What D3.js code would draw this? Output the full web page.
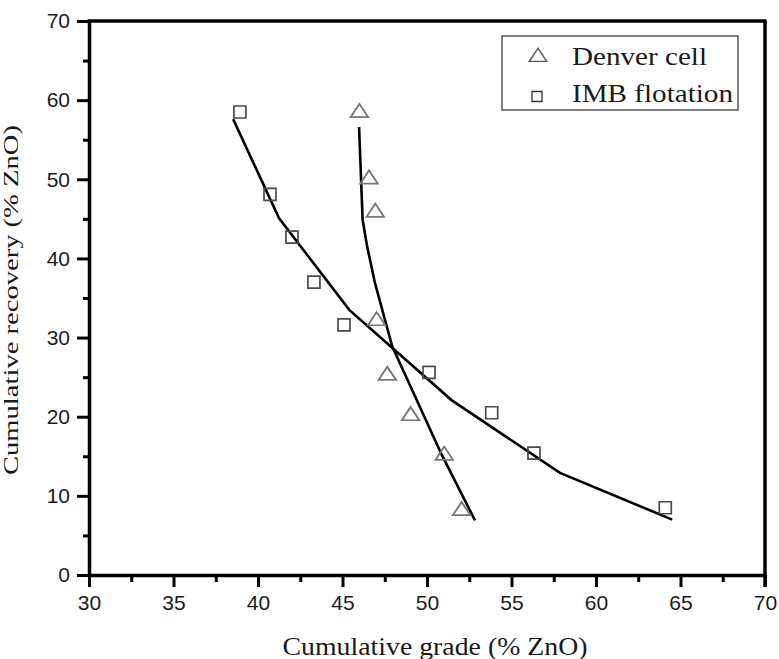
<!DOCTYPE html>
<html lang="en">
<head>
  <meta charset="utf-8">
  <script src="https://d3js.org/d3.v7.min.js"></script>
  <style>
    body { margin: 0; background: #fff; }
    .title { font-family: "Liberation Serif", "Times New Roman", serif; fill: #1a1a1a; }
  </style>
</head>
<body>
  <div id="chart"></div>
  <script>
    // Denver cell measurements
    var denverGrade = [46.0, 46.57, 46.94, 47.02, 47.65, 49.03, 51.02, 52.05];
    var denverRecovery = [58.6, 50.2, 46.0, 32.3, 25.4, 20.3, 15.3, 8.3];

    // IMB flotation measurements
    var imbGrade = [38.93, 40.71, 42.01, 43.31, 45.09, 50.12, 53.83, 56.33, 64.1];
    var imbRecovery = [58.5, 48.1, 42.7, 37.0, 31.6, 25.6, 20.5, 15.4, 8.5];

    // fitted trend lines
    var denverFitGrade = [45.98, 46.19, 46.45, 46.92, 47.94, 50.87, 52.84];
    var denverFitRecovery = [56.6, 44.9, 41.6, 36.9, 28.9, 15.2, 6.9];
    var imbFitGrade = [38.53, 41.24, 45.4, 51.45, 57.87, 64.51];
    var imbFitRecovery = [57.6, 45.1, 33.5, 22.1, 12.9, 7.0];

    var xTicks = [30, 35, 40, 45, 50, 55, 60, 65, 70];
    var yTicks = [0, 10, 20, 30, 40, 50, 60, 70];
    var legendLabels = ["Denver cell", "IMB flotation"];

    var width = 779;
    var height = 659;
    var plotLeft = 89, plotRight = 765, plotTop = 21, plotBottom = 575;

    var x = d3.scaleLinear().domain([30, 70]).range([plotLeft, plotRight]);
    var y = d3.scaleLinear().domain([0, 70]).range([plotBottom, plotTop]);

    var svg = d3.select('#chart')
      .append('svg')
      .attr('width', width)
      .attr('height', height);

    // major + minor ticks
    var xMinor = d3.range(32.5, 70, 5);
    var yMinor = d3.range(5, 70, 10);

    var xAxis = svg.append('g')
      .attr('transform', 'translate(0,' + plotBottom + ')')
      .call(d3.axisBottom(x).tickValues(xTicks).tickSize(12).tickPadding(8).tickSizeOuter(0));
    svg.append('g')
      .attr('transform', 'translate(0,' + plotBottom + ')')
      .call(d3.axisBottom(x).tickValues(xMinor).tickSize(7).tickFormat('').tickSizeOuter(0))
      .select('.domain').remove();

    var yAxis = svg.append('g')
      .attr('transform', 'translate(' + plotLeft + ',0)')
      .call(d3.axisLeft(y).tickValues(yTicks).tickSize(12).tickPadding(7).tickSizeOuter(0));
    svg.append('g')
      .attr('transform', 'translate(' + plotLeft + ',0)')
      .call(d3.axisLeft(y).tickValues(yMinor).tickSize(6).tickFormat('').tickSizeOuter(0))
      .select('.domain').remove();

    svg.selectAll('.domain').attr('stroke', '#000').attr('stroke-width', 3.5);
    svg.selectAll('.tick line').attr('stroke', '#000').attr('stroke-width', 3);
    svg.selectAll('.tick text')
      .attr('font-family', '"Liberation Sans", Arial, sans-serif')
      .attr('font-size', 21)
      .attr('fill', '#1a1a1a');
    xAxis.selectAll('.tick text').attr('dy', '0.72em');

    // top and right frame
    svg.append('line')
      .attr('x1', x(30) - 1.5).attr('x2', x(70) + 1.5)
      .attr('y1', y(70)).attr('y2', y(70))
      .attr('stroke', '#000').attr('stroke-width', 3.5);
    svg.append('line')
      .attr('x1', x(70)).attr('x2', x(70))
      .attr('y1', y(70)).attr('y2', y(0) + 12)
      .attr('stroke', '#000').attr('stroke-width', 3.5);

    // fit lines
    var line = d3.line()
      .x(function (d) { return x(d[0]); })
      .y(function (d) { return y(d[1]); });

    var fits = [
      d3.zip(denverFitGrade, denverFitRecovery),
      d3.zip(imbFitGrade, imbFitRecovery)
    ];
    svg.selectAll('.fit')
      .data(fits)
      .enter()
      .append('path')
      .attr('class', 'fit')
      .attr('d', line)
      .attr('fill', 'none')
      .attr('stroke', '#000')
      .attr('stroke-width', 2.6);

    // markers
    var tri = d3.symbol().type(d3.symbolTriangle).size(100);
    var sq = d3.symbol().type(d3.symbolSquare).size(144);

    svg.selectAll('.denver')
      .data(d3.zip(denverGrade, denverRecovery))
      .enter()
      .append('path')
      .attr('class', 'denver')
      .attr('d', tri)
      .attr('transform', function (d) { return 'translate(' + x(d[0]) + ',' + (y(d[1]) + 1.5) + ') scale(1.15,1)'; })
      .attr('fill', 'none')
      .attr('stroke', '#777')
      .attr('stroke-width', 1.7);

    svg.selectAll('.imb')
      .data(d3.zip(imbGrade, imbRecovery))
      .enter()
      .append('path')
      .attr('class', 'imb')
      .attr('d', sq)
      .attr('transform', function (d) { return 'translate(' + x(d[0]) + ',' + y(d[1]) + ')'; })
      .attr('fill', 'none')
      .attr('stroke', '#4a4a4a')
      .attr('stroke-width', 1.7);

    // legend
    var legend = svg.append('g').attr('transform', 'translate(502,36)');
    legend.append('rect')
      .attr('width', 236).attr('height', 74)
      .attr('fill', '#fff').attr('stroke', '#000').attr('stroke-width', 1);
    legend.append('path')
      .attr('d', tri)
      .attr('transform', 'translate(36,21) scale(1.15,1)')
      .attr('fill', 'none').attr('stroke', '#555').attr('stroke-width', 1.3);
    legend.append('path')
      .attr('d', d3.symbol().type(d3.symbolSquare).size(100))
      .attr('transform', 'translate(35,60.5)')
      .attr('fill', 'none').attr('stroke', '#333').attr('stroke-width', 1.3);
    legend.selectAll('.leg-text')
      .data(legendLabels)
      .enter()
      .append('text')
      .attr('class', 'title')
      .attr('x', 70)
      .attr('y', function (d, i) { return 29 + i * 36.5; })
      .attr('font-size', 25)
      .attr('textLength', function (d, i) { return i === 0 ? 135 : 161; })
      .attr('lengthAdjust', 'spacingAndGlyphs')
      .text(function (d) { return d; });

    // axis titles
    svg.append('text')
      .attr('class', 'title')
      .attr('x', 435)
      .attr('y', 655)
      .attr('text-anchor', 'middle')
      .attr('font-size', 25)
      .attr('textLength', 305)
      .attr('lengthAdjust', 'spacingAndGlyphs')
      .text('Cumulative grade (% ZnO)');

    svg.append('text')
      .attr('class', 'title')
      .attr('transform', 'translate(18,300) rotate(-90)')
      .attr('text-anchor', 'middle')
      .attr('font-size', 21)
      .attr('textLength', 350)
      .attr('lengthAdjust', 'spacingAndGlyphs')
      .text('Cumulative recovery (% ZnO)');
  </script>
</body>
</html>
